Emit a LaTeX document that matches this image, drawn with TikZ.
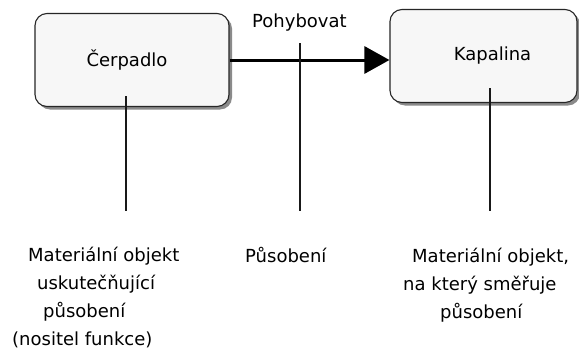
\documentclass[tikz,border=0pt]{standalone}
\usepackage{fontspec}
\setmainfont{DejaVu Sans}
\usetikzlibrary{arrows.meta,shadows}
\definecolor{boxfill}{HTML}{F7F7F7}
\definecolor{boxshade}{HTML}{8A8A8A}
\tikzset{
  objbox/.style={draw=black!85, line width=1.1pt, rounded corners=12pt, fill=boxfill,
    general shadow={fill=boxshade, shadow xshift=3pt, shadow yshift=-3pt},
    inner sep=0pt},
  caption/.style={inner sep=0pt, font=\fontsize{18}{28}\selectfont},
  leader/.style={line width=1.1pt, black!90},
}
\begin{document}
\begin{tikzpicture}[x=1pt,y=-1pt]
  \useasboundingbox (0,0) rectangle (579,351);
  \fill[white] (0,0) rectangle (579,351);

  % the two material objects
  \node[objbox, minimum width=194pt, minimum height=93pt, font=\fontsize{18}{22}\selectfont]
    (pump) at (132,60) {Čerpadlo\hspace*{10pt}};
  \node[objbox, minimum width=187pt, minimum height=93pt, font=\fontsize{18}{22}\selectfont]
    (fluid) at (483.5,56) {\hspace*{18pt}Kapalina};

  % the action between them
  \draw[line width=3pt, -{Triangle[length=25pt,width=27pt]}]
    (pump.east) -- (pump.east -| fluid.west);
  \node[caption, anchor=base west] (act) at (252,27) {Pohybovat};

  % leader lines down to the explanations
  \coordinate (l1) at (126,96);  \coordinate (l1e) at (126,211);
  \coordinate (l2) at (300,43);  \coordinate (l2e) at (300,211);
  \coordinate (l3) at (490,88);  \coordinate (l3e) at (490,211);
  \draw[leader] (l1) -- (l1e);
  \draw[leader] (l2) -- (l2e);
  \draw[leader] (l3) -- (l3e);

  % explanations
  \node[caption, anchor=north west, align=left] (t1) at (12,245)
    {\rule{0pt}{16pt}\hspace*{16pt}Materiální objekt\\
     \hspace*{25pt}uskutečňující\\
     \hspace*{31pt}působení\\
     (nositel funkce)};
  \node[caption, anchor=base west] (t2) at (245,262) {Působení};
  \node[caption, anchor=north west, align=left] (t3) at (403,246)
    {\rule{0pt}{16pt}\hspace*{9pt}Materiální objekt,\\
     na který směřuje\\
     \hspace*{37pt}působení};
\end{tikzpicture}
\end{document}
